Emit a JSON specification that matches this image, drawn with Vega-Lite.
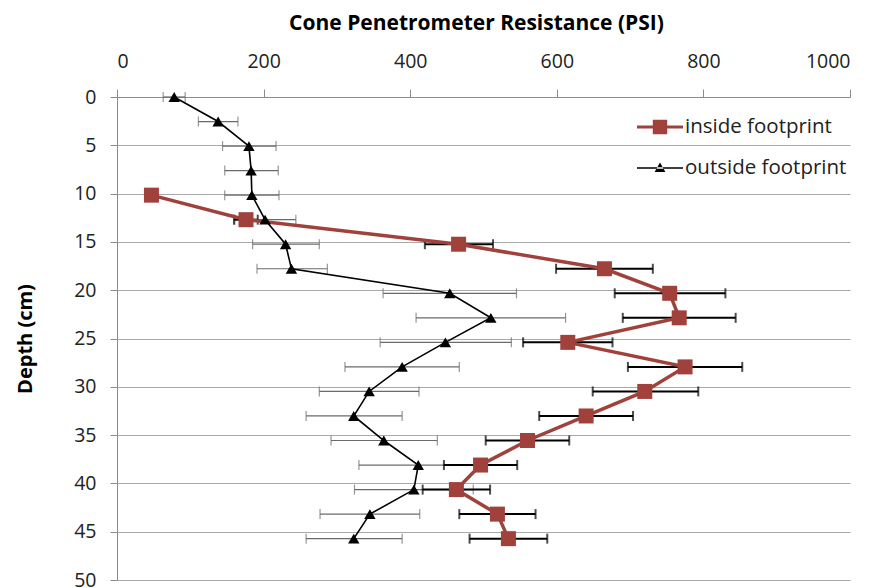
{
  "$schema": "https://vega.github.io/schema/vega-lite/v6.json",
  "width": 733,
  "height": 483,
  "autosize": "none",
  "padding": {"left": 117, "top": 97, "right": 25, "bottom": 8},
  "background": "white",
  "config": {
    "view": {"stroke": null},
    "font": "Open Sans",
    "axis": {"labelColor": "#222222", "titleColor": "#000000", "labelFont": "Open Sans", "titleFont": "Open Sans"}
  },
  "data": {
    "values": [
      {"series": "outside footprint", "depth": 0, "psi": 78, "lo": 63, "hi": 93},
      {"series": "outside footprint", "depth": 2.54, "psi": 138, "lo": 111, "hi": 165},
      {"series": "outside footprint", "depth": 5.08, "psi": 180, "lo": 144, "hi": 217},
      {"series": "outside footprint", "depth": 7.62, "psi": 183, "lo": 147, "hi": 220},
      {"series": "outside footprint", "depth": 10.16, "psi": 184, "lo": 147, "hi": 221},
      {"series": "outside footprint", "depth": 12.7, "psi": 202, "lo": 159, "hi": 244},
      {"series": "outside footprint", "depth": 15.24, "psi": 230, "lo": 185, "hi": 276},
      {"series": "outside footprint", "depth": 17.78, "psi": 238, "lo": 191, "hi": 287},
      {"series": "outside footprint", "depth": 20.32, "psi": 454, "lo": 363, "hi": 545},
      {"series": "outside footprint", "depth": 22.86, "psi": 510, "lo": 408, "hi": 612},
      {"series": "outside footprint", "depth": 25.4, "psi": 448, "lo": 359, "hi": 538},
      {"series": "outside footprint", "depth": 27.94, "psi": 389, "lo": 311, "hi": 467},
      {"series": "outside footprint", "depth": 30.48, "psi": 344, "lo": 276, "hi": 412},
      {"series": "outside footprint", "depth": 33.02, "psi": 323, "lo": 258, "hi": 389},
      {"series": "outside footprint", "depth": 35.56, "psi": 364, "lo": 292, "hi": 437},
      {"series": "outside footprint", "depth": 38.1, "psi": 411, "lo": 330, "hi": 492},
      {"series": "outside footprint", "depth": 40.64, "psi": 405, "lo": 324, "hi": 486},
      {"series": "outside footprint", "depth": 43.18, "psi": 345, "lo": 277, "hi": 413},
      {"series": "outside footprint", "depth": 45.72, "psi": 323, "lo": 258, "hi": 389},
      {"series": "inside footprint", "depth": 10.16, "psi": 47, "lo": 42, "hi": 52},
      {"series": "inside footprint", "depth": 12.7, "psi": 176, "lo": 160, "hi": 192},
      {"series": "inside footprint", "depth": 15.24, "psi": 466, "lo": 420, "hi": 513},
      {"series": "inside footprint", "depth": 17.78, "psi": 665, "lo": 599, "hi": 731},
      {"series": "inside footprint", "depth": 20.32, "psi": 754, "lo": 679, "hi": 830},
      {"series": "inside footprint", "depth": 22.86, "psi": 767, "lo": 690, "hi": 844},
      {"series": "inside footprint", "depth": 25.4, "psi": 615, "lo": 554, "hi": 676},
      {"series": "inside footprint", "depth": 27.94, "psi": 775, "lo": 697, "hi": 853},
      {"series": "inside footprint", "depth": 30.48, "psi": 720, "lo": 649, "hi": 793},
      {"series": "inside footprint", "depth": 33.02, "psi": 640, "lo": 576, "hi": 704},
      {"series": "inside footprint", "depth": 35.56, "psi": 560, "lo": 503, "hi": 617},
      {"series": "inside footprint", "depth": 38.1, "psi": 496, "lo": 446, "hi": 546},
      {"series": "inside footprint", "depth": 40.64, "psi": 463, "lo": 417, "hi": 509},
      {"series": "inside footprint", "depth": 43.18, "psi": 519, "lo": 467, "hi": 571},
      {"series": "inside footprint", "depth": 45.72, "psi": 534, "lo": 481, "hi": 587}
    ]
  },
  "encoding": {
    "y": {
      "field": "depth",
      "type": "quantitative",
      "title": "Depth (cm)",
      "scale": {"domain": [0, 50], "reverse": true, "nice": false, "zero": false},
      "axis": {
        "values": [0, 5, 10, 15, 20, 25, 30, 35, 40, 45, 50],
        "grid": true,
        "gridColor": "#a9a9a9",
        "gridWidth": 1,
        "domainColor": "#8c8c8c",
        "tickColor": "#8c8c8c",
        "tickSize": 7,
        "labelFontSize": 19.5,
        "labelPadding": 14,
        "titleFontSize": 20,
        "titleFontWeight": "bold",
        "titlePadding": 38
      }
    }
  },
  "layer": [
    {
      "transform": [{"filter": "datum.series === 'outside footprint'"}],
      "mark": {"type": "errorbar", "ticks": {"size": 10}, "color": "#6a6a6a", "thickness": 1.2},
      "encoding": {
        "x": {
          "field": "lo",
          "type": "quantitative",
          "title": "Cone Penetrometer Resistance (PSI)",
          "scale": {"domain": [0, 1000], "nice": false},
          "axis": {
            "orient": "top",
            "values": [0, 200, 400, 600, 800, 1000],
            "format": "d",
            "grid": false,
            "domainColor": "#8c8c8c",
            "tickColor": "#8c8c8c",
            "tickSize": 8,
            "labelFontSize": 19.5,
            "labelPadding": 18,
            "titleFontSize": 21,
            "titleFontWeight": "bold",
            "titlePadding": 18,
            "titleX": 359
          }
        },
        "x2": {"field": "hi"}
      }
    },
    {
      "transform": [{"filter": "datum.series === 'outside footprint'"}],
      "mark": {"type": "line", "strokeWidth": 1.6},
      "encoding": {
        "x": {"field": "psi", "type": "quantitative", "title": "Cone Penetrometer Resistance (PSI)"},
        "stroke": {"field": "series", "type": "nominal", "scale": {"range": ["#a0413c", "#000000"]}, "legend": null},
        "order": {"field": "depth", "type": "quantitative"}
      }
    },
    {
      "transform": [{"filter": "datum.series === 'inside footprint'"}],
      "mark": {"type": "errorbar", "ticks": {"size": 10}, "color": "#000000", "thickness": 2},
      "encoding": {
        "x": {"field": "lo", "type": "quantitative", "title": "Cone Penetrometer Resistance (PSI)"},
        "x2": {"field": "hi"}
      }
    },
    {
      "transform": [{"filter": "datum.series === 'inside footprint'"}],
      "mark": {"type": "line", "strokeWidth": 3.5},
      "encoding": {
        "x": {"field": "psi", "type": "quantitative", "title": "Cone Penetrometer Resistance (PSI)"},
        "stroke": {"field": "series", "type": "nominal", "legend": null},
        "order": {"field": "depth", "type": "quantitative"}
      }
    },
    {
      "mark": {"type": "point", "filled": true, "opacity": 1, "strokeWidth": 0},
      "encoding": {
        "x": {"field": "psi", "type": "quantitative", "title": "Cone Penetrometer Resistance (PSI)"},
        "color": {
          "field": "series",
          "type": "nominal",
          "scale": {"domain": ["inside footprint", "outside footprint"], "range": ["#a0413c", "#000000"]},
          "legend": {
            "title": null,
            "orient": "none",
            "legendX": 523,
            "legendY": 10,
            "symbolSize": 1600,
            "symbolOpacity": 1,
            "symbolStrokeWidth": 0,
            "labelFontSize": 20.5,
            "labelFont": "Open Sans",
            "labelColor": "#222222",
            "labelLimit": 400,
            "labelOffset": 5,
            "rowPadding": 10,
            "encode": {
              "symbols": {
                "update": {
                  "shape": {"signal": "datum.value === 'inside footprint' ? 'M-1.15,-0.08H1.15V0.08H-1.15Z M-0.36,-0.36H0.36V0.36H-0.36Z' : 'M-1.15,-0.035H1.15V0.035H-1.15Z M-0.27,0.2L0.27,0.2L0,-0.27Z'"},
                  "strokeWidth": {"value": 0}
                }
              }
            }
          }
        },
        "shape": {"field": "series", "type": "nominal", "scale": {"range": ["square", "triangle-up"]}, "legend": null},
        "size": {"field": "series", "type": "nominal", "scale": {"range": [225, 130]}, "legend": null}
      }
    }
  ]
}
